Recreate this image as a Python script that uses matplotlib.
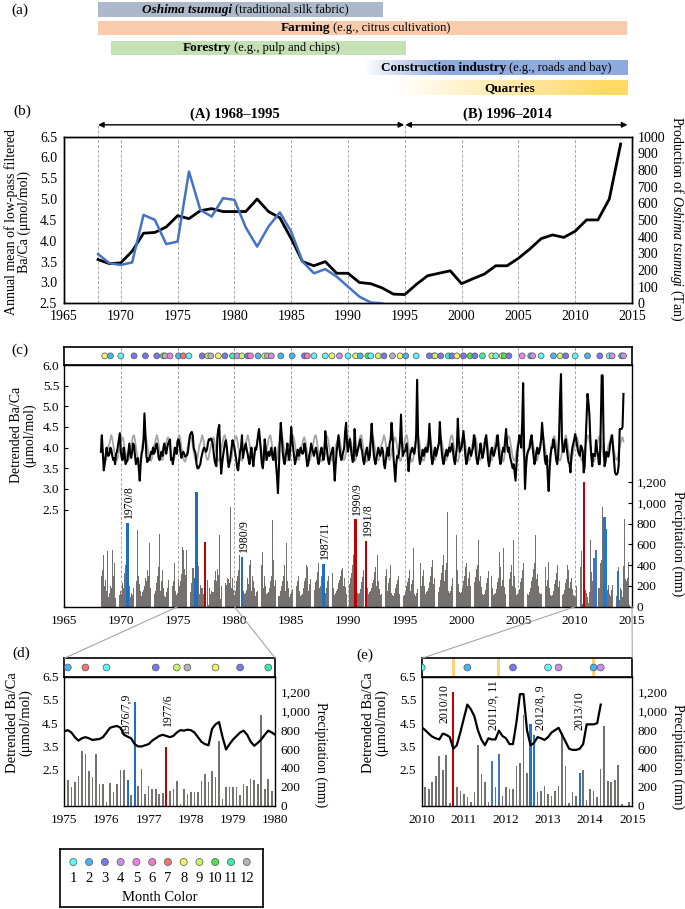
import numpy as np
import matplotlib
matplotlib.use('Agg')
import matplotlib.pyplot as plt
from matplotlib.patches import Rectangle, ConnectionPatch
from matplotlib.ticker import FuncFormatter
import matplotlib.transforms as mtransforms
from matplotlib.colors import to_rgb

plt.rcParams['font.family'] = ['Liberation Serif', 'DejaVu Serif']
plt.rcParams['mathtext.fontset'] = 'custom'
plt.rcParams['mathtext.rm'] = 'Liberation Serif'
plt.rcParams['mathtext.it'] = 'Liberation Serif:italic'
plt.rcParams['mathtext.bf'] = 'Liberation Serif:bold'

# ---------------- DATA ----------------
# (a) activity periods
act_bold = ['Oshima tsumugi', 'Farming', 'Forestry', 'Construction industry', 'Quarries']
act_note = [' (traditional silk fabric)', ' (e.g., citrus cultivation)', ' (e.g., pulp and chips)',
            ' (e.g., roads and bay)', '']
act_start = [1968.0, 1968.0, 1969.1, 1991.3, 1994.0]
act_full = [1968.0, 1968.0, 1969.1, 1998.5, 2012.5]
act_end = [1993.1, 2014.6, 1995.1, 2014.6, 2014.6]
act_colors = ['#adb9ca', '#f8cbad', '#c5e0b4', '#8faadc', '#ffd966']
act_split = [1979.8, 1988.4, 1979.7, 2003.9, 2004.2]

# (b) annual means
years_b = list(range(1968, 2015))
ba_annual = [3.55, 3.45, 3.47, 3.75, 4.18, 4.20, 4.33, 4.60, 4.53, 4.72,
             4.77, 4.70, 4.70, 4.70, 5.00, 4.70, 4.55, 4.05, 3.50, 3.40,
             3.50, 3.22, 3.22, 3.00, 2.97, 2.87, 2.72, 2.71, 2.95, 3.16,
             3.22, 3.28, 2.97, 3.09, 3.20, 3.40, 3.40, 3.58, 3.80, 4.05,
             4.14, 4.08, 4.23, 4.50, 4.50, 5.00, 6.32]
tsumugi_years = list(range(1968, 1994))
tsumugi_prod = [295, 240, 230, 245, 530, 500, 355, 370, 790, 560,
                520, 630, 620, 455, 340, 460, 545, 430, 250, 180,
                205, 160, 100, 40, 5, 0]

# (c) monthly series, first month = April 1968
start_year, start_month = 1968, 4
ba_monthly = [
    3.9, 4.3, 3.85, 3.45, 3.6, 3.8, 4.0, 3.85, 3.8,                     # 1968 Apr-Dec
    3.85, 4.0, 3.95, 3.8, 3.7, 3.75, 3.6, 3.85, 3.9, 4.05, 4.2, 4.35,   # 1969
    3.9, 3.75, 3.7, 4.0, 3.85, 3.6, 3.65, 3.7, 3.9, 4.1, 3.85, 3.75,    # 1970
    3.9, 4.1, 4.05, 3.8, 3.6, 3.7, 3.75, 3.5, 3.2, 3.6, 3.85, 3.95,     # 1971
    4.2, 4.83, 4.3, 3.8, 3.65, 3.75, 3.7, 3.8, 3.9, 3.85, 4.0, 3.85,   # 1972
    3.9, 4.05, 4.1, 3.95, 3.75, 3.7, 3.8, 3.9, 3.8, 4.0, 4.1, 3.95,     # 1973
    3.85, 4.0, 4.1, 4.15, 4.2, 3.7, 3.75, 3.6, 3.8, 4.0, 3.9, 3.85,     # 1974
    4.15, 4.2, 4.1, 3.9, 3.75, 3.85, 3.9, 3.85, 3.78, 3.8, 3.82, 3.9,   # 1975
    4.1, 4.3, 4.35, 4.38, 4.3, 4.0, 3.92, 3.85, 3.6, 3.5, 3.5, 3.55,    # 1976
    3.6, 3.75, 3.85, 3.95, 4.0, 3.95, 3.9, 3.95, 4.1, 4.2, 4.18, 4.22,  # 1977
    4.2, 4.1, 3.9, 3.7, 3.6, 3.55, 4.25, 4.45, 4.55, 3.9, 3.37, 3.6,    # 1978
    3.8, 3.95, 4.1, 4.18, 4.0, 3.7, 3.53, 3.65, 3.8, 4.0, 4.18, 4.1,    # 1979
    4.0, 3.85, 3.7, 3.5, 3.45, 3.7, 3.9, 4.0, 4.3, 3.75, 3.9, 4.0,      # 1980
    4.1, 3.95, 3.85, 3.7, 3.6, 3.85, 4.0, 3.75, 3.55, 3.8, 4.0, 3.95,   # 1981
    4.1, 4.3, 4.45, 4.2, 3.9, 3.6, 3.5, 3.75, 4.2, 4.0, 3.7, 3.8,       # 1982
    3.9, 3.8, 3.9, 4.0, 3.8, 3.7, 3.85, 4.0, 3.6, 3.3, 2.9, 3.5,        # 1983
    4.2, 4.6, 4.3, 3.9, 3.7, 3.6, 3.8, 3.9, 4.1, 3.8, 3.7, 4.0,         # 1984
    4.5, 4.2, 4.0, 3.8, 3.6, 3.7, 3.85, 3.95, 3.8, 3.9, 4.0, 3.9,       # 1985
    3.85, 3.9, 4.1, 4.0, 3.75, 3.55, 3.6, 3.8, 3.9, 4.1, 4.0, 3.9,      # 1986
    3.8, 3.9, 4.0, 3.9, 3.7, 3.6, 3.75, 3.9, 4.0, 3.85, 3.7, 3.8,       # 1987
    4.4, 4.1, 3.9, 3.7, 3.6, 3.75, 3.85, 3.9, 4.0, 3.6, 3.2, 3.6,       # 1988
    3.9, 4.1, 4.3, 4.0, 3.8, 3.7, 3.8, 3.9, 4.0, 4.4, 4.6, 4.1,         # 1989
    3.9, 4.1, 4.2, 4.0, 3.8, 3.65, 3.7, 4.45, 4.0, 3.8, 3.9, 4.0,       # 1990
    4.1, 4.2, 4.0, 3.9, 3.7, 3.6, 3.75, 3.9, 4.0, 3.85, 3.7, 3.8,       # 1991
    4.2, 4.58, 4.2, 3.9, 3.7, 3.6, 3.75, 3.85, 4.0, 3.9, 3.8, 3.9,      # 1992
    4.0, 3.9, 3.6, 3.5, 3.7, 3.9, 4.0, 3.8, 4.1, 4.2, 4.6, 4.3,         # 1993
    3.8, 3.5, 3.18, 3.6, 3.8, 3.75, 3.9, 4.2, 4.8, 4.1, 3.8, 3.9,       # 1994
    3.9, 4.0, 4.1, 3.8, 3.43, 3.7, 3.85, 3.95, 4.0, 3.9, 3.85, 4.0,     # 1995
    4.3, 5.64, 4.3, 3.8, 3.6, 3.7, 3.85, 3.95, 3.8, 3.9, 4.0, 3.9,      # 1996
    3.9, 4.1, 4.58, 4.2, 3.8, 3.6, 3.7, 3.9, 4.0, 3.8, 3.9, 4.0,        # 1997
    4.1, 4.62, 4.2, 3.9, 3.7, 3.6, 3.75, 3.85, 3.95, 3.8, 3.9, 4.0,     # 1998
    3.9, 4.0, 4.1, 3.9, 3.7, 3.6, 3.8, 4.0, 4.7, 4.2, 3.9, 3.95,        # 1999
    4.0, 4.2, 4.4, 4.1, 3.8, 3.6, 3.7, 3.85, 4.0, 3.9, 3.8, 3.9,        # 2000
    4.0, 4.3, 4.2, 3.9, 3.7, 3.6, 3.75, 3.9, 4.1, 3.9, 3.75, 3.85,      # 2001
    4.0, 4.2, 4.3, 4.0, 3.7, 3.55, 3.7, 3.9, 4.0, 3.85, 3.8, 3.9,       # 2002
    4.0, 4.1, 4.3, 4.0, 3.75, 3.6, 3.7, 3.9, 4.0, 3.9, 4.2, 4.45,       # 2003
    4.1, 3.9, 4.0, 3.8, 3.7, 3.6, 3.5, 3.6, 3.4, 3.2, 3.6, 3.9,         # 2004
    4.1, 4.3, 4.2, 4.0, 4.6, 5.56, 4.0, 3.0, 3.5, 3.8, 3.9, 3.95,       # 2005
    4.0, 4.2, 4.3, 4.0, 3.8, 3.6, 3.7, 3.9, 4.0, 3.85, 3.9, 4.0,        # 2006
    4.2, 4.6, 4.3, 4.0, 3.7, 3.6, 3.8, 3.3, 2.95, 3.5, 3.8, 4.0,        # 2007
    4.0, 4.2, 4.1, 3.9, 3.7, 3.6, 3.8, 4.3, 5.2, 5.78, 4.2, 3.9,        # 2008
    3.9, 4.1, 4.2, 4.0, 3.8, 3.65, 3.6, 3.4, 3.8, 4.0, 4.1, 4.2,        # 2009
    4.33, 4.2, 4.05, 3.92, 3.85, 3.8, 4.05, 4.0, 3.9, 3.4, 3.55, 4.1,   # 2010
    4.7, 5.3, 5.1, 4.8, 4.2, 3.8, 3.55, 3.85, 3.8, 3.8, 4.18, 3.95,     # 2011
    3.85, 3.6, 3.6, 4.55, 5.75, 5.75, 4.2, 3.55, 3.65, 3.9, 3.85, 3.78, # 2012
    3.9, 4.1, 4.2, 4.3, 4.0, 3.7, 3.4, 3.35, 3.35, 3.4, 3.6, 4.45,      # 2013
    4.45, 4.45, 4.5, 5.3,                                               # 2014 Jan-Apr
]
grey_monthly = [
    4.2, 4.05, 3.9, 3.78, 3.7, 3.68, 3.75, 3.9, 4.05,                           # 1968
    4.1, 4.2, 4.3, 4.22, 4.08, 3.92, 3.8, 3.72, 3.7, 3.78, 3.92, 4.02,          # 1969
    4.12, 4.22, 4.25, 4.15, 4.0, 3.88, 3.75, 3.68, 3.7, 3.8, 3.95, 4.05,        # 1970
    4.18, 4.28, 4.3, 4.18, 4.02, 3.85, 3.74, 3.68, 3.66, 3.74, 3.9, 4.08,       # 1971
    4.15, 4.25, 4.28, 4.2, 4.05, 3.9, 3.78, 3.7, 3.68, 3.75, 3.9, 4.05,         # 1972
    4.1, 4.2, 4.3, 4.22, 4.08, 3.92, 3.8, 3.72, 3.7, 3.78, 3.92, 4.02,          # 1973
    4.12, 4.22, 4.25, 4.15, 4.0, 3.88, 3.75, 3.68, 3.7, 3.8, 3.95, 4.05,        # 1974
    4.18, 4.28, 4.3, 4.18, 4.02, 3.85, 3.74, 3.68, 3.66, 3.74, 3.9, 4.08,       # 1975
    4.15, 4.25, 4.28, 4.2, 4.05, 3.9, 3.78, 3.7, 3.68, 3.75, 3.9, 4.05,         # 1976
    4.1, 4.2, 4.3, 4.22, 4.08, 3.92, 3.8, 3.72, 3.7, 3.78, 3.92, 4.02,          # 1977
    4.12, 4.22, 4.25, 4.15, 4.0, 3.88, 3.75, 3.68, 3.7, 3.8, 3.95, 4.05,        # 1978
    4.18, 4.28, 4.3, 4.18, 4.02, 3.85, 3.74, 3.68, 3.66, 3.74, 3.9, 4.08,       # 1979
    4.15, 4.25, 4.28, 4.2, 4.05, 3.9, 3.78, 3.7, 3.68, 3.75, 3.9, 4.05,         # 1980
    4.1, 4.2, 4.3, 4.22, 4.08, 3.92, 3.8, 3.72, 3.7, 3.78, 3.92, 4.02,          # 1981
    4.12, 4.22, 4.25, 4.15, 4.0, 3.88, 3.75, 3.68, 3.7, 3.8, 3.95, 4.05,        # 1982
    4.18, 4.28, 4.3, 4.18, 4.02, 3.85, 3.74, 3.68, 3.66, 3.74, 3.9, 4.08,       # 1983
    4.15, 4.25, 4.28, 4.2, 4.05, 3.9, 3.78, 3.7, 3.68, 3.75, 3.9, 4.05,         # 1984
    4.1, 4.2, 4.3, 4.22, 4.08, 3.92, 3.8, 3.72, 3.7, 3.78, 3.92, 4.02,          # 1985
    4.12, 4.22, 4.25, 4.15, 4.0, 3.88, 3.75, 3.68, 3.7, 3.8, 3.95, 4.05,        # 1986
    4.18, 4.28, 4.3, 4.18, 4.02, 3.85, 3.74, 3.68, 3.66, 3.74, 3.9, 4.08,       # 1987
    4.15, 4.25, 4.28, 4.2, 4.05, 3.9, 3.78, 3.7, 3.68, 3.75, 3.9, 4.05,         # 1988
    4.1, 4.2, 4.3, 4.22, 4.08, 3.92, 3.8, 3.72, 3.7, 3.78, 3.92, 4.02,          # 1989
    4.12, 4.22, 4.25, 4.15, 4.0, 3.88, 3.75, 3.68, 3.7, 3.8, 3.95, 4.05,        # 1990
    4.18, 4.28, 4.3, 4.18, 4.02, 3.85, 3.74, 3.68, 3.66, 3.74, 3.9, 4.08,       # 1991
    4.15, 4.25, 4.28, 4.2, 4.05, 3.9, 3.78, 3.7, 3.68, 3.75, 3.9, 4.05,         # 1992
    4.1, 4.2, 4.3, 4.22, 4.08, 3.92, 3.8, 3.72, 3.7, 3.78, 3.92, 4.02,          # 1993
    4.12, 4.22, 4.25, 4.15, 4.0, 3.88, 3.75, 3.68, 3.7, 3.8, 3.95, 4.05,        # 1994
    4.18, 4.28, 4.3, 4.18, 4.02, 3.85, 3.74, 3.68, 3.66, 3.74, 3.9, 4.08,       # 1995
    4.15, 4.25, 4.28, 4.2, 4.05, 3.9, 3.78, 3.7, 3.68, 3.75, 3.9, 4.05,         # 1996
    4.1, 4.2, 4.3, 4.22, 4.08, 3.92, 3.8, 3.72, 3.7, 3.78, 3.92, 4.02,          # 1997
    4.12, 4.22, 4.25, 4.15, 4.0, 3.88, 3.75, 3.68, 3.7, 3.8, 3.95, 4.05,        # 1998
    4.18, 4.28, 4.3, 4.18, 4.02, 3.85, 3.74, 3.68, 3.66, 3.74, 3.9, 4.08,       # 1999
    4.15, 4.25, 4.28, 4.2, 4.05, 3.9, 3.78, 3.7, 3.68, 3.75, 3.9, 4.05,         # 2000
    4.1, 4.2, 4.3, 4.22, 4.08, 3.92, 3.8, 3.72, 3.7, 3.78, 3.92, 4.02,          # 2001
    4.12, 4.22, 4.25, 4.15, 4.0, 3.88, 3.75, 3.68, 3.7, 3.8, 3.95, 4.05,        # 2002
    4.18, 4.28, 4.3, 4.18, 4.02, 3.85, 3.74, 3.68, 3.66, 3.74, 3.9, 4.08,       # 2003
    4.15, 4.25, 4.28, 4.2, 4.05, 3.9, 3.78, 3.7, 3.68, 3.75, 3.9, 4.05,         # 2004
    4.1, 4.2, 4.3, 4.22, 4.08, 3.92, 3.8, 3.72, 3.7, 3.78, 3.92, 4.02,          # 2005
    4.12, 4.22, 4.25, 4.15, 4.0, 3.88, 3.75, 3.68, 3.7, 3.8, 3.95, 4.05,        # 2006
    4.18, 4.28, 4.3, 4.18, 4.02, 3.85, 3.74, 3.68, 3.66, 3.74, 3.9, 4.08,       # 2007
    4.15, 4.25, 4.28, 4.2, 4.05, 3.9, 3.78, 3.7, 3.68, 3.75, 3.9, 4.05,         # 2008
    4.1, 4.2, 4.3, 4.22, 4.08, 3.92, 3.8, 3.72, 3.7, 3.78, 3.92, 4.02,          # 2009
    4.12, 4.22, 4.25, 4.15, 4.0, 3.88, 3.75, 3.68, 3.7, 3.8, 3.95, 4.05,        # 2010
    4.18, 4.28, 4.3, 4.18, 4.02, 3.85, 3.74, 3.68, 3.66, 3.74, 3.9, 4.08,       # 2011
    4.15, 4.25, 4.28, 4.2, 4.05, 3.9, 3.78, 3.7, 3.68, 3.75, 3.9, 4.05,         # 2012
    4.1, 4.2, 4.3, 4.22, 4.08, 3.92, 3.8, 3.72, 3.7, 3.78, 3.92, 4.02,          # 2013
    4.12, 4.22, 4.25, 4.15,                                                     # 2014
]
precip_monthly = [
    220, 300, 350, 497, 200, 260, 150, 540, 90,                    # 1968 Apr-Dec
    130, 200, 180, 550, 300, 420, 80, 260, 190, 515, 140, 110,     # 1969
    150, 120, 230, 180, 320, 400, 160, 808, 300, 200, 90, 130,     # 1970
    110, 180, 260, 200, 400, 250, 737, 300, 220, 150, 100, 140,    # 1971
    160, 200, 280, 250, 350, 300, 610, 180, 420, 200, 120, 150,    # 1972
    120, 150, 230, 300, 380, 700, 150, 250, 350, 180, 100, 90,     # 1973
    140, 180, 260, 417, 300, 380, 120, 200, 250, 417, 150, 110,    # 1974
    130, 270, 200, 250, 310, 575, 550, 365, 305, 545, 230, 230,    # 1975
    35, 240, 145, 230, 375, 375, 274, 110, 1100, 205, 390, 125,    # 1976
    205, 180, 180, 125, 135, 620, 160, 180, 260, 15, 180, 125,     # 1977
    150, 145, 145, 260, 340, 250, 365, 305, 690, 75, 200, 200,     # 1978
    200, 200, 110, 230, 210, 280, 270, 225, 958, 180, 280, 160,    # 1979
    110, 155, 250, 300, 350, 500, 180, 220, 481, 200, 150, 120,    # 1980
    130, 160, 280, 220, 400, 450, 150, 300, 250, 180, 100, 140,    # 1981
    150, 200, 260, 300, 350, 400, 530, 180, 300, 200, 120, 130,    # 1982
    140, 180, 250, 300, 833, 450, 200, 260, 350, 220, 110, 100,    # 1983
    100, 150, 200, 250, 300, 400, 150, 610, 250, 180, 90, 120,     # 1984
    140, 170, 220, 300, 350, 460, 200, 250, 300, 150, 100, 110,    # 1985
    120, 180, 250, 280, 400, 380, 150, 220, 270, 200, 130, 140,    # 1986
    150, 160, 240, 260, 330, 420, 180, 200, 300, 220, 410, 120,    # 1987
    130, 180, 250, 300, 700, 450, 200, 280, 320, 180, 110, 130,    # 1988
    150, 170, 230, 260, 300, 350, 369, 200, 280, 190, 120, 110,    # 1989
    140, 160, 220, 280, 320, 400, 500, 250, 840, 200, 130, 120,    # 1990
    130, 170, 240, 290, 350, 420, 200, 635, 280, 180, 120, 140,    # 1991
    150, 180, 230, 260, 330, 380, 200, 497, 250, 170, 110, 120,    # 1992
    120, 160, 220, 250, 300, 360, 150, 230, 280, 400, 130, 110,    # 1993
    100, 130, 180, 220, 260, 300, 120, 180, 200, 150, 90, 100,     # 1994
    110, 140, 200, 240, 280, 350, 150, 220, 260, 560, 120, 100,    # 1995
    130, 170, 230, 280, 330, 420, 200, 300, 350, 200, 120, 140,    # 1996
    150, 180, 240, 300, 380, 450, 220, 280, 320, 200, 560, 130,    # 1997
    140, 190, 260, 320, 400, 500, 250, 350, 420, 913, 150, 130,    # 1998
    150, 200, 280, 320, 420, 480, 230, 689, 350, 220, 140, 130,    # 1999
    140, 180, 250, 300, 380, 420, 200, 280, 330, 200, 130, 120,    # 2000
    130, 170, 240, 290, 360, 400, 640, 250, 300, 190, 120, 110,    # 2001
    120, 160, 230, 280, 340, 380, 200, 260, 300, 180, 110, 120,    # 2002
    130, 170, 240, 280, 530, 380, 200, 260, 560, 190, 120, 110,    # 2003
    120, 160, 230, 270, 330, 400, 200, 640, 300, 180, 110, 120,    # 2004
    130, 170, 240, 280, 350, 420, 855, 260, 300, 190, 120, 110,    # 2005
    140, 180, 250, 290, 360, 420, 689, 270, 310, 200, 130, 120,    # 2006
    120, 160, 230, 270, 330, 380, 200, 260, 430, 180, 110, 100,    # 2007
    110, 150, 220, 260, 320, 400, 190, 250, 500, 170, 100, 110,    # 2008
    120, 160, 230, 270, 400, 350, 180, 240, 280, 170, 110, 100,    # 2009
    89, 195, 178, 249, 320, 522, 380, 533, 25, 1200, 195, 160,     # 2010
    128, 89, 36, 142, 639, 337, 249, 36, 472, 195, 550, 107,       # 2011
    195, 178, 178, 416, 451, 958, 344, 862, 752, 142, 160, 213,    # 2012
    124, 107, 160, 213, 770, 416, 30, 150, 107, 344, 380, 60,      # 2013
    178, 160, 89, 390, 841, 266, 249, 275, 426, 18, 0, 36,         # 2014
]

# highlighted precipitation months
hl_year = [1970, 1976, 1976, 1977, 1980, 1987, 1990, 1991, 2010, 2011, 2011, 2012, 2012, 2013]
hl_month = [8, 7, 9, 6, 9, 11, 9, 8, 10, 9, 11, 8, 9, 10]
hl_color = ['#1f6fc0', '#1f6fc0', '#1f6fc0', '#c00000', '#1f6fc0', '#1f6fc0', '#c00000',
            '#c00000', '#c00000', '#4472c4', '#4472c4', '#1f78c8', '#1f78c8', '#1f78c8']
c_labels = ['1970/8', '1980/9', '1987/11', '1990/9', '1991/8']
c_label_year = [1970, 1980, 1987, 1990, 1991]
c_label_month = [8, 9, 11, 9, 8]

# month-coloured peaks
dot_year = [1968, 1969, 1970, 1971, 1972, 1973, 1973, 1973, 1974, 1975, 1975, 1976, 1977, 1977,
            1977, 1978, 1979, 1979, 1980, 1980, 1981, 1981, 1982, 1982, 1982, 1983, 1984, 1985,
            1986, 1986, 1987, 1988, 1988, 1989, 1990, 1990, 1991, 1991, 1992, 1992, 1993, 1993,
            1994, 1995, 1996, 1997, 1997, 1997, 1998, 1998, 1999, 1999, 2000, 2000, 2001, 2001,
            2002, 2003, 2003, 2003, 2004, 2005, 2006, 2006, 2007, 2008, 2008, 2009, 2010, 2011,
            2012, 2013, 2013, 2014, 2014]
dot_month = [8, 2, 1, 3, 3, 3, 10, 12, 5, 2, 7, 1, 3, 9,
             12, 8, 3, 11, 4, 9, 3, 6, 2, 9, 12, 4, 2, 2,
             3, 6, 1, 1, 8, 4, 1, 9, 2, 10, 1, 9, 3, 12,
             8, 2, 1, 3, 8, 9, 3, 11, 3, 8, 3, 10, 3, 11,
             9, 1, 8, 10, 3, 5, 2, 4, 1, 2, 9, 3, 1, 2,
             3, 1, 4, 2, 4]
month_colors = ['#5ff5f5', '#45b5f0', '#7878ea', '#cc8ee8', '#f07ef0', '#f07cc8',
                '#f27272', '#f5f06c', '#cdf56c', '#4ee04e', '#3de8b0', '#b4b4b4']
orange_year = [2010, 2011, 2014]
orange_month = [10, 11, 2]

# ---------------- FIGURE ----------------
W, H = 685, 909
fig = plt.figure(figsize=(W / 100, H / 100), dpi=100)


def px_axes(x0, y0, x1, y1):
    return fig.add_axes([x0 / W, 1 - y1 / H, (x1 - x0) / W, (y1 - y0) / H])


def ftext(x, y, s, **kw):
    return fig.text(x / W, 1 - y / H, s, ha='center', va='center', **kw)


def tyear(y, m):
    return y + (m - 1) / 12.0


n_ba = len(ba_monthly)
n_pr = len(precip_monthly)
t0 = tyear(start_year, start_month)
t_ba = t0 + np.arange(n_ba) / 12.0
t_pr = t0 + np.arange(n_pr) / 12.0
ba_arr = np.array(ba_monthly)
grey_arr = np.array(grey_monthly)
pr_arr = np.array(precip_monthly)


def pr_at(y, m):
    return pr_arr[int(round((tyear(y, m) - t0) * 12))]


comma = FuncFormatter(lambda v, p: f'{int(round(v)):,}')
one_dec = FuncFormatter(lambda v, p: f'{v:.1f}')
BAR_GREY = '#767171'
DASH = dict(color='#a6a6a6', lw=0.7, ls=(0, (3, 2)))
BACA_LABEL = 'Detrended Ba/Ca\n(μmol/mol)'


def style_box(ax, lw=1.0):
    for s in ax.spines.values():
        s.set_linewidth(lw)
        s.set_color('black')


# ---------------- (a) ----------------
ax_a = px_axes(64, 0, 632, 97)
ax_a.set_xlim(1965, 2015)
row_top = [2, 20.5, 40.5, 60.5, 80.5]
row_h = 14.5
for i in range(len(act_bold)):
    s, f, e = act_start[i], act_full[i], act_end[i]
    rgb = np.array(to_rgb(act_colors[i]))
    if f > s:
        xs = np.linspace(s, e, 400)
        alpha = np.clip((xs - s) / (f - s), 0, 1)
        img = np.ones((1, 400, 4))
        img[0, :, :3] = rgb
        img[0, :, 3] = alpha
        ax_a.imshow(img, extent=(s, e, row_top[i] + row_h, row_top[i]), aspect='auto',
                    interpolation='bilinear', zorder=1)
    else:
        ax_a.add_patch(Rectangle((s, row_top[i]), e - s, row_h, color=act_colors[i], lw=0, zorder=1))
    yc = row_top[i] + row_h / 2 + 0.5
    if act_note[i]:
        ax_a.text(act_split[i], yc, act_bold[i], ha='right', va='center', fontsize=9.5,
                  fontweight='bold', fontstyle='italic' if i == 0 else 'normal', zorder=3)
        ax_a.text(act_split[i], yc, act_note[i], ha='left', va='center', fontsize=9, zorder=3)
    else:
        ax_a.text(act_split[i], yc, act_bold[i], ha='center', va='center', fontsize=9.5,
                  fontweight='bold', zorder=3)
ax_a.set_xlim(1965, 2015)
ax_a.set_ylim(97, 0)
ax_a.axis('off')

# ---------------- (b) ----------------
ax_b = px_axes(64, 136.5, 632, 303.3)
ax_b.set_xlim(1965, 2015)
ax_b.set_ylim(2.5, 6.5)
for yr in [1968] + list(range(1970, 2011, 5)):
    top = 1.07 if yr in (1968, 1995) else 1.0
    ax_b.axvline(yr, ymin=0, ymax=top, clip_on=False, zorder=0, **DASH)
ax_b.plot(years_b, ba_annual, color='black', lw=2.0, zorder=3)
ax_b.set_yticks(np.arange(2.5, 6.51, 0.5))
ax_b.yaxis.set_major_formatter(one_dec)
ax_b.set_xticks(range(1965, 2016, 5))
ax_b.tick_params(direction='in', length=0, width=0.8, labelsize=10, pad=5)
ax_b2 = ax_b.twinx()
ax_b2.set_ylim(0, 1000)
ax_b2.plot(tsumugi_years, tsumugi_prod, color='#4472c4', lw=1.8)
ax_b2.set_yticks(range(0, 1001, 100))
ax_b2.tick_params(direction='in', length=0, width=0.8, labelsize=10, pad=4)
style_box(ax_b)
style_box(ax_b2)
ftext(17.5, 222, 'Annual mean of low-pass filtered\nBa/Ca (μmol/mol)', rotation=90, fontsize=10,
      linespacing=1.0)
ftext(677, 219, r'Production of $\mathit{Oshima\ tsumugi}$ (Tan)', rotation=270, fontsize=10)
trb = mtransforms.blended_transform_factory(ax_b.transData, ax_b.transAxes)
ap = dict(arrowstyle='<|-|>', color='black', lw=1.0, mutation_scale=8, shrinkA=0, shrinkB=0)
ax_b.annotate('', xy=(1968, 1.07), xytext=(1994.95, 1.07), xycoords=trb, textcoords=trb, arrowprops=ap)
ax_b.annotate('', xy=(1995.05, 1.07), xytext=(2014.6, 1.07), xycoords=trb, textcoords=trb, arrowprops=ap)
ax_b.text(1980.0, 1.136, '(A) 1968–1995', transform=trb, ha='center', va='center',
          fontsize=10.5, fontweight='bold')
ax_b.text(2004.0, 1.136, '(B) 1996–2014', transform=trb, ha='center', va='center',
          fontsize=10.5, fontweight='bold')


# ---------------- strips helper ----------------
def strip(ax, x0, x1, dot_size, dashed=False):
    ax.set_xlim(x0, x1)
    ax.set_ylim(0, 1)
    ax.set_xticks([])
    ax.set_yticks([])
    style_box(ax, 1.2)
    if dashed:
        for yr in range(1970, 2011, 5):
            ax.axvline(yr, zorder=0, **DASH)
    xs = [tyear(y, m) for y, m in zip(dot_year, dot_month)]
    cs = [month_colors[m - 1] for m in dot_month]
    ax.scatter(xs, [0.5] * len(xs), s=dot_size, c=cs, edgecolors='#555555', linewidths=0.5,
               zorder=3, clip_on=True)


# ---------------- (c) ----------------
ax_cs = px_axes(64, 346.7, 632, 365)
strip(ax_cs, 1965, 2015, 18, dashed=True)

ax_c2 = px_axes(64, 365, 632, 606.7)  # precipitation (right axis), drawn behind
ax_c2.yaxis.tick_right()
ax_c2.set_xlim(1965, 2015)
ax_c2.set_ylim(0, 2325)
for yr in range(1970, 2011, 5):
    ax_c2.axvline(yr, zorder=0, **DASH)
ax_c2.bar(t_pr, pr_arr, width=0.85 / 12, color=BAR_GREY, lw=0, zorder=1)
hx = [tyear(y, m) for y, m in zip(hl_year, hl_month)]
hv = [pr_at(y, m) for y, m in zip(hl_year, hl_month)]
ax_c2.bar(hx, hv, width=0.2, color=hl_color, lw=0, zorder=2)
for lab, y, m in zip(c_labels, c_label_year, c_label_month):
    ax_c2.text(tyear(y, m) + 0.15, pr_at(y, m) + 45, lab, rotation=90, ha='center', va='bottom',
               fontsize=8.5)
ax_c2.set_yticks(range(0, 1201, 200))
ax_c2.yaxis.set_major_formatter(comma)
ax_c2.set_xticks(range(1965, 2016, 5))
ax_c2.tick_params(direction='in', length=3, width=0.8, labelsize=9.5)
ax_c2.tick_params(axis='x', length=0, pad=6)
style_box(ax_c2)
ftext(678, 544, 'Precipitation (mm)', rotation=270, fontsize=10)

ax_c = fig.add_axes(ax_c2.get_position(), sharex=ax_c2)
ax_c.patch.set_visible(False)
ax_c.set_ylim(0.15, 6.0)
ax_c.plot(t_ba, grey_arr, color='#a6a6a6', lw=1.3, zorder=2)
ax_c.plot(t_ba, ba_arr, color='black', lw=1.5, zorder=3)
ax_c.set_yticks(np.arange(2.5, 6.01, 0.5))
ax_c.yaxis.set_major_formatter(one_dec)
ax_c.tick_params(direction='in', length=3, width=0.8, labelsize=9.5, labelbottom=False, bottom=False)
for s in ax_c.spines.values():
    s.set_visible(False)
ftext(23, 435, BACA_LABEL, rotation=90, fontsize=10, linespacing=1.0)


# ---------------- (d) and (e) ----------------
def zoom_panel(xpx0, xpx1, x0, x1, labels, lab_x, lab_y, lab_va, show_orange, llab_x, rlab_x, rlab_y):
    axs = px_axes(xpx0, 658.3, xpx1, 676.7)
    strip(axs, x0, x1, 24)
    if show_orange:
        for y, m in zip(orange_year, orange_month):
            t = tyear(y, m)
            axs.axvspan(t - 0.035, t + 0.035, color='#ffd27a', lw=0, zorder=1)
    ax2 = px_axes(xpx0, 676.7, xpx1, 805.7)
    ax2.yaxis.tick_right()
    ax2.set_xlim(x0, x1)
    ax2.set_ylim(0, 1367)
    ax2.bar(t_pr, pr_arr, width=0.45 / 12, color=BAR_GREY, lw=0, zorder=1)
    ax2.bar(hx, hv, width=0.6 / 12, color=hl_color, lw=0, zorder=2)
    for lab, lx, ly, va in zip(labels, lab_x, lab_y, lab_va):
        ax2.text(lx, ly, lab, rotation=90, ha='center', va=va, fontsize=8.5)
    ax2.set_yticks(range(0, 1201, 200))
    ax2.yaxis.set_major_formatter(comma)
    ax2.set_xticks(range(int(x0), int(x1) + 1))
    ax2.tick_params(direction='in', length=0, width=0.8, labelsize=9.5, pad=4)
    ax2.tick_params(axis='x', pad=6)
    style_box(ax2)
    ax1 = fig.add_axes(ax2.get_position(), sharex=ax2)
    ax1.patch.set_visible(False)
    ax1.set_ylim(0.95, 6.5)
    m = (t_ba >= x0 - 0.1) & (t_ba <= x1 + 0.1)
    ax1.plot(t_ba[m], ba_arr[m], color='black', lw=1.6, zorder=3)
    ax1.set_xlim(x0, x1)
    ax1.set_yticks([2.5, 3.5, 4.5, 5.5, 6.5])
    ax1.yaxis.set_major_formatter(one_dec)
    ax1.tick_params(direction='in', length=0, width=0.8, labelsize=9.5, labelbottom=False,
                    bottom=False, pad=4)
    for s in ax1.spines.values():
        s.set_visible(False)
    ftext(llab_x, 723, BACA_LABEL, rotation=90, fontsize=10.5, linespacing=1.0)
    ftext(rlab_x, rlab_y, 'Precipitation (mm)', rotation=270, fontsize=10)
    return axs, ax2


ax_ds, ax_d2 = zoom_panel(64.3, 275.3, 1975, 1980, ['1976/7,9', '1977/6'],
                          [1976.45, 1977.46], [1195, 1195], ['top', 'top'], False, 19, 321, 755)
ax_es, ax_e2 = zoom_panel(421.7, 632.3, 2010, 2015, ['2010/10', '2011/9, 11', '2012/8, 9', '2013/10'],
                          [2010.53, 2011.72, 2012.83, 2013.74], [873, 800, 800, 800],
                          ['bottom', 'bottom', 'bottom', 'bottom'], True, 375, 678, 757)

# zoom connectors
for xa, axb, xb in [(1975, ax_ds, 0), (1980, ax_ds, 1), (2010, ax_es, 0), (2015, ax_es, 1)]:
    con = ConnectionPatch(xyA=(xa, 0), coordsA=ax_c2.transData, xyB=(xb, 1), coordsB=axb.transAxes,
                          color='#a6a6a6', lw=0.8)
    fig.add_artist(con)

# ---------------- legend ----------------
ax_l = px_axes(60, 849, 263, 907)
ax_l.set_xlim(0.156, 13.03)
ax_l.set_ylim(0, 1)
ax_l.set_xticks([])
ax_l.set_yticks([])
style_box(ax_l, 1.2)
months = list(range(1, 13))
ax_l.scatter(months, [0.776] * 12, s=26, c=month_colors, edgecolors='#555555', linewidths=0.5)
for mth in months:
    ax_l.text(mth, 0.50, str(mth), ha='center', va='center', fontsize=10.5)
ax_l.text(6.5, 0.17, 'Month Color', ha='center', va='center', fontsize=10.5)

# ---------------- panel letters ----------------
for lab, x, y in [('(a)', 20, 10), ('(b)', 22, 111), ('(c)', 20, 350), ('(d)', 21, 653), ('(e)', 365, 655)]:
    ftext(x, y, lab, fontsize=11)

fig.savefig('out.png', dpi=100)
